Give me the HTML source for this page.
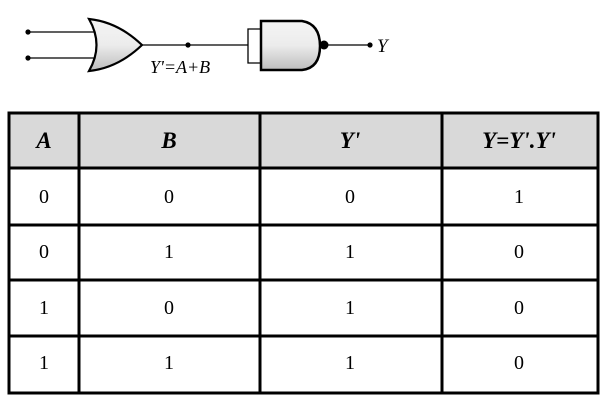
<!DOCTYPE html>
<html><head><style>
body{margin:0;width:602px;height:401px;background:#fff;position:relative;overflow:hidden;font-family:"Liberation Serif",serif}
svg{position:absolute;left:0;top:0}
</style></head><body>
<svg width="602" height="401" viewBox="0 0 602 401">
<defs>
<linearGradient id="g" x1="0" y1="0" x2="0" y2="1">
<stop offset="0" stop-color="#f4f4f4"/><stop offset="0.5" stop-color="#ececec"/><stop offset="1" stop-color="#bdbdbd"/>
</linearGradient>
</defs>
<g stroke="#000" stroke-width="1.3" fill="none">
<line x1="28" y1="32" x2="95" y2="32"/>
<line x1="28" y1="58" x2="95" y2="58"/>
<line x1="142" y1="45" x2="248" y2="45"/>
<polyline points="261,29 248,29 248,63 261,63"/>
<line x1="326" y1="45" x2="370" y2="45"/>
</g>
<path d="M89,19 Q118,22 142,45 Q118,68 89,71 Q104,45 89,19 Z" fill="url(#g)" stroke="#000" stroke-width="2.2"/>
<path d="M261,21 L302,21 Q320,24 320,46 Q320,68 302,70 L261,70 Z" fill="url(#g)" stroke="#000" stroke-width="2.5"/>
<circle cx="324" cy="45" r="4.5" fill="#000"/>
<circle cx="28" cy="32" r="2.6" fill="#000"/>
<circle cx="28" cy="58" r="2.6" fill="#000"/>
<circle cx="188" cy="45" r="2.6" fill="#000"/>
<circle cx="370" cy="45" r="2.6" fill="#000"/>
<text x="377" y="52" font-family="Liberation Serif, serif" font-style="italic" font-size="19">Y</text>
<text x="150" y="73" font-family="Liberation Serif, serif" font-style="italic" font-size="18">Y'=A+B</text>

<rect x="9" y="113" width="589" height="55" fill="#d9d9d9"/>
<g stroke="#000" stroke-width="3" fill="none">
<rect x="9" y="113" width="589" height="280"/>
<line x1="9" y1="168" x2="598" y2="168"/>
<line x1="9" y1="225" x2="598" y2="225"/>
<line x1="9" y1="280" x2="598" y2="280"/>
<line x1="9" y1="336" x2="598" y2="336"/>
<line x1="79" y1="113" x2="79" y2="393"/>
<line x1="260" y1="113" x2="260" y2="393"/>
<line x1="442" y1="113" x2="442" y2="393"/>
</g>
<g font-family="Liberation Serif, serif" font-size="20" text-anchor="middle">
<g font-weight="bold" font-style="italic" font-size="23">
<text x="44" y="148">A</text><text x="169" y="148">B</text><text x="350" y="148">Y'</text><text x="519" y="148">Y=Y'.Y'</text>
</g>
<text x="44" y="203">0</text><text x="169" y="203">0</text><text x="350" y="203">0</text><text x="519" y="203">1</text>
<text x="44" y="258">0</text><text x="169" y="258">1</text><text x="350" y="258">1</text><text x="519" y="258">0</text>
<text x="44" y="314">1</text><text x="169" y="314">0</text><text x="350" y="314">1</text><text x="519" y="314">0</text>
<text x="44" y="369">1</text><text x="169" y="369">1</text><text x="350" y="369">1</text><text x="519" y="369">0</text>
</g>
</svg>
</body></html>
